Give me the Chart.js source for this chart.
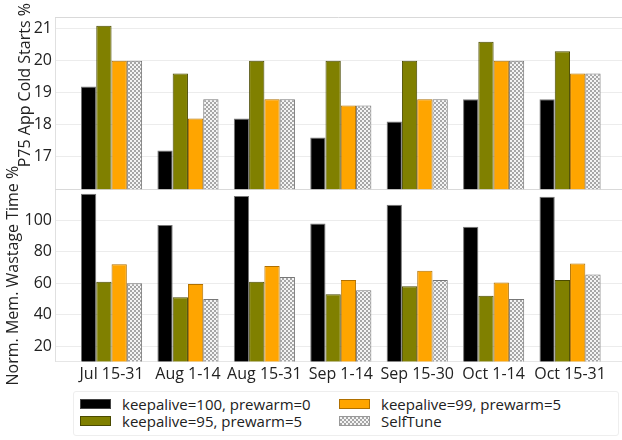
<!DOCTYPE html>
<html>
<head>
<meta charset="utf-8">
<script src="https://cdn.jsdelivr.net/npm/chart.js@4.4.0/dist/chart.umd.min.js"></script>
<style>
  body { margin: 0; background: #fff; font-family: "Open Sans", sans-serif; }
  #wrap { position: relative; width: 622px; height: 387px; }
  #legend {
    position: absolute; left: 73px; top: 391px; width: 546px; height: 45px;
    border: 1px solid #eee; border-radius: 3px; box-sizing: border-box;
    display: grid; grid-template-columns: 259px auto; grid-auto-rows: 17px;
    padding: 3px 0 0 6px; font-size: 15px; color: #222;
  }
  .item { display: flex; align-items: center; white-space: nowrap; }
  .sw { width: 31px; height: 10px; margin-right: 11px; box-sizing: border-box; border: 1px solid #777; }
</style>
</head>
<body>
<div id="wrap"><canvas id="chart"></canvas></div>
<div id="legend"></div>
<script>
const categories = ["Jul 15-31", "Aug 1-14", "Aug 15-31", "Sep 1-14", "Sep 15-30", "Oct 1-14", "Oct 15-31"];
const seriesNames = ["keepalive=100, prewarm=0", "keepalive=95, prewarm=5", "keepalive=99, prewarm=5", "SelfTune"];

// P75 app cold starts (%)
const coldKa100 = [19.2, 17.2, 18.2, 17.6, 18.1, 18.8, 18.8];
const coldKa95 = [21.1, 19.6, 20.0, 20.0, 20.0, 20.6, 20.3];
const coldKa99 = [20.0, 18.2, 18.8, 18.6, 18.8, 20.0, 19.6];
const coldSelfTune = [20.0, 18.8, 18.8, 18.6, 18.8, 20.0, 19.6];

// normalized memory wastage time (%)
const wasteKa100 = [117, 97, 115.5, 98, 110, 96, 115];
const wasteKa95 = [61, 51, 61, 53, 58, 52, 62];
const wasteKa99 = [72, 59.5, 71, 62, 68, 60.5, 72.5];
const wasteSelfTune = [60, 50, 64, 55.5, 62, 50, 65.5];

const coldTicks = [17, 18, 19, 20, 21];
const wasteTicks = [20, 40, 60, 80, 100];

// checker pattern for SelfTune
const pc = document.createElement("canvas");
pc.width = 4; pc.height = 4;
const pctx = pc.getContext("2d");
pctx.fillStyle = "#f4f4f4"; pctx.fillRect(0, 0, 4, 4);
pctx.fillStyle = "#a6a6a6"; pctx.fillRect(0, 0, 2, 2); pctx.fillRect(2, 2, 2, 2);
const checker = pctx.createPattern(pc, "repeat");

const fills = ["#000000", "#808000", "#ffa500", checker];
const borders = ["#777777", "#4a4a00", "#b07000", "#777777"];
const coldSets = [coldKa100, coldKa95, coldKa99, coldSelfTune];
const wasteSets = [wasteKa100, wasteKa95, wasteKa99, wasteSelfTune];

function bars(i, values, axis, base) {
  return {
    label: seriesNames[i],
    data: values.map((v, k) => ({ x: k, y: v })),
    yAxisID: axis,
    base: base,
    stack: "s" + i,
    backgroundColor: fills[i],
    borderColor: borders[i],
    borderWidth: 1,
    borderSkipped: "bottom",
    categoryPercentage: 0.8,
    barPercentage: 1
  };
}

const datasets = [];
coldSets.forEach((v, i) => datasets.push(bars(i, v, "yTop", 15.98)));
wasteSets.forEach((v, i) => datasets.push(bars(i, v, "yBot", 10)));

const tickFont = { family: "Open Sans", size: 16 };

/* frame lines + axis titles */
const panelFrame = {
  id: "panelFrame",
  beforeDatasetsDraw(chart) {
    const { ctx, chartArea, scales } = chart;
    ctx.save();
    ctx.strokeStyle = "#d9d9d9";
    ctx.lineWidth = 1;
    [scales.yTop.top, scales.yTop.bottom].forEach(y => {
      ctx.beginPath();
      ctx.moveTo(chartArea.left, Math.round(y) + 0.5);
      ctx.lineTo(chartArea.right, Math.round(y) + 0.5);
      ctx.stroke();
    });
    ctx.restore();
  },
  afterDraw(chart) {
    const { ctx, scales } = chart;
    const titles = [
      ["P75 App Cold Starts %", scales.yTop, 25, -18],
      ["Norm. Mem. Wastage Time %", scales.yBot, 13, 0]
    ];
    ctx.save();
    ctx.fillStyle = "#222";
    ctx.font = '16px "Open Sans"';
    ctx.textAlign = "center";
    ctx.textBaseline = "middle";
    titles.forEach(([text, s, x, dy]) => {
      ctx.save();
      ctx.translate(x, (s.top + s.bottom) / 2 + dy);
      ctx.rotate(-Math.PI / 2);
      ctx.fillText(text, 0, 0);
      ctx.restore();
    });
    ctx.restore();
  }
};

function yAxis(min, max, ticks) {
  return {
    type: "linear",
    position: "left",
    stack: "panels",
    stackWeight: 1,
    stacked: false,
    min: min,
    max: max,
    afterBuildTicks: s => { s.ticks = ticks.map(v => ({ value: v })); },
    afterFit: s => { s.width = 55; },
    ticks: { font: tickFont, color: "#222", padding: 3 },
    grid: { color: "#ececec", drawTicks: false },
    border: { color: "#e0e0e0" }
  };
}

new Chart(document.getElementById("chart"), {
  type: "bar",
  data: { datasets: datasets },
  options: {
    responsive: true,
    maintainAspectRatio: false,
    animation: false,
    layout: { padding: { top: 17, left: 0, right: 0, bottom: 0 } },
    scales: {
      x: {
        type: "linear",
        offset: false,
        min: -0.74,
        max: 6.68,
        afterBuildTicks: s => { s.ticks = categories.map((c, i) => ({ value: i })); },
        ticks: {
          font: tickFont,
          color: "#222",
          padding: 3,
          autoSkip: false,
          maxRotation: 0,
          callback: v => categories[v]
        },
        grid: { display: false, drawTicks: false, offset: false },
        border: { color: "#e6e6e6" }
      },
      yBot: yAxis(10, 119.7, wasteTicks),
      yTop: yAxis(15.98, 21.37, coldTicks)
    },
    plugins: {
      legend: { display: false },
      tooltip: { enabled: false }
    }
  },
  plugins: [panelFrame]
});

/* legend, two columns like the original */
const legendOrder = [0, 2, 1, 3];
const swatchBg = [
  "#000",
  "#808000",
  "#ffa500",
  "repeating-conic-gradient(#a6a6a6 0 25%, #f4f4f4 0 50%) 0 0 / 4px 4px"
];
const swatchBorder = ["#444", "#4a4a00", "#b07000", "#999"];
const legend = document.getElementById("legend");
legendOrder.forEach(i => {
  const item = document.createElement("div");
  item.className = "item";
  const sw = document.createElement("span");
  sw.className = "sw";
  sw.style.background = swatchBg[i];
  sw.style.borderColor = swatchBorder[i];
  item.appendChild(sw);
  item.appendChild(document.createTextNode(seriesNames[i]));
  legend.appendChild(item);
});
</script>
</body>
</html>
